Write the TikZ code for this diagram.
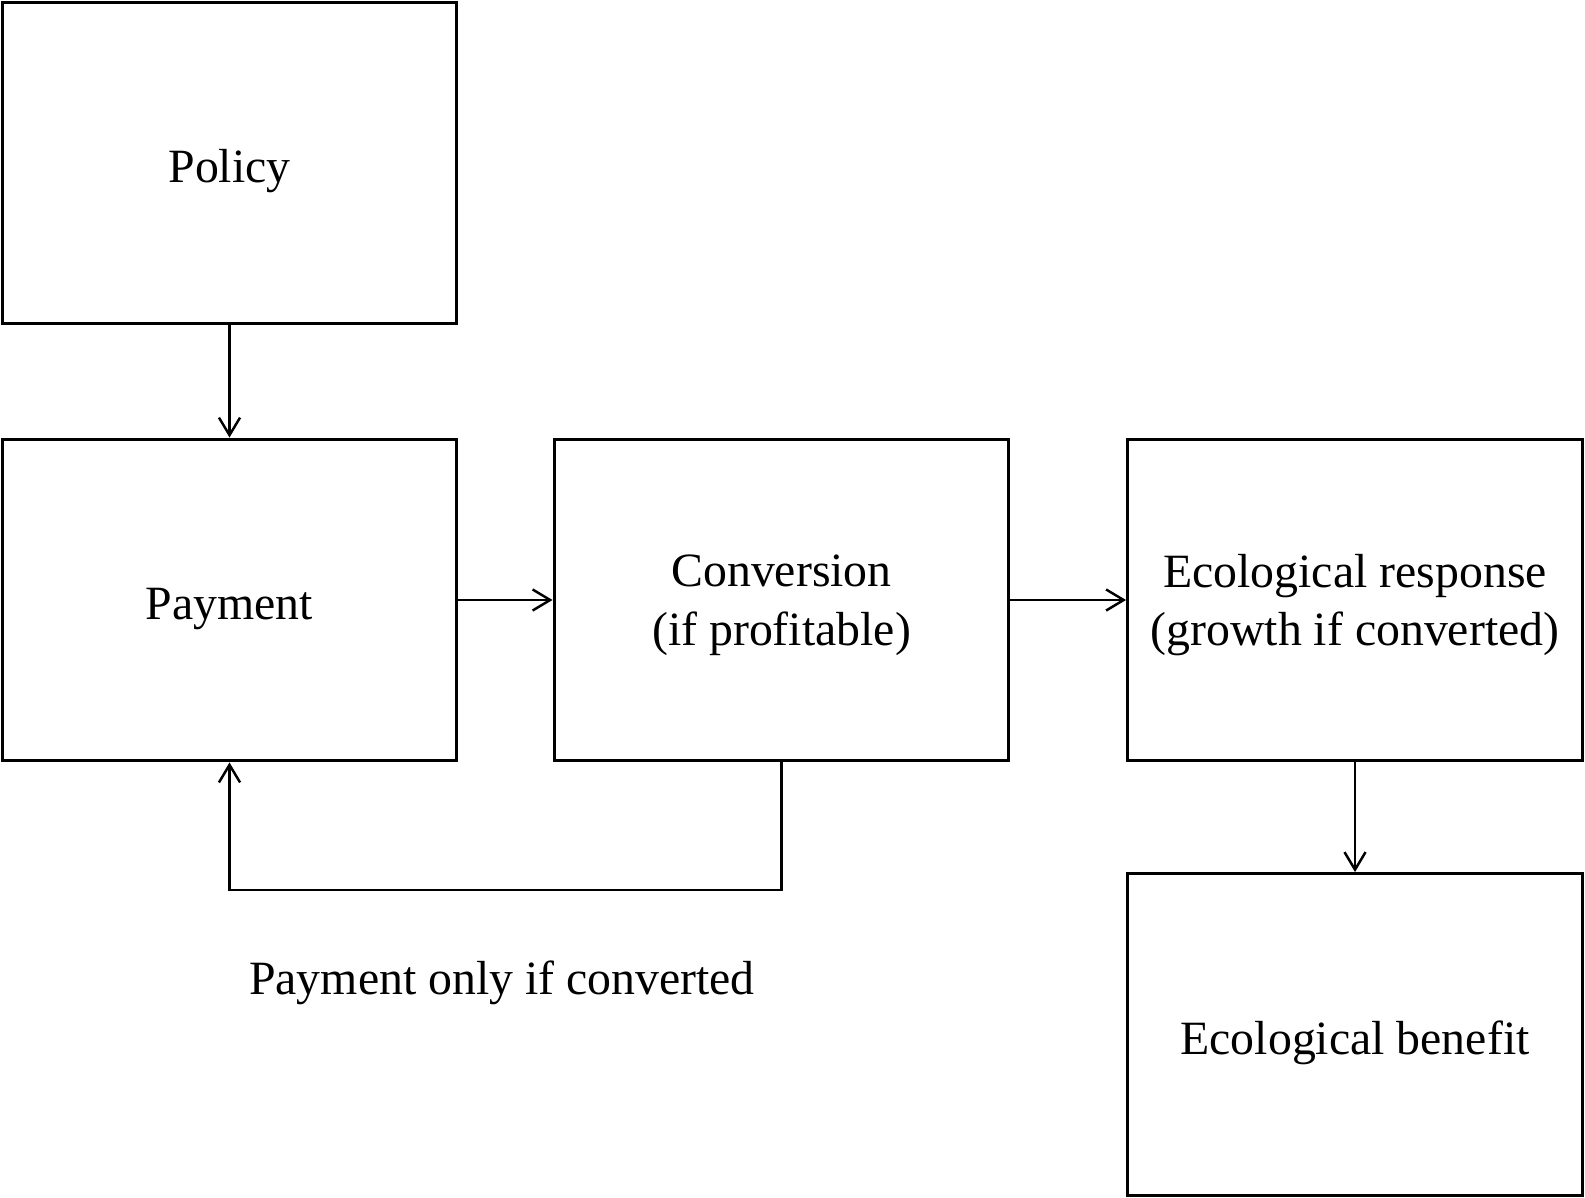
\documentclass[tikz,border=0pt]{standalone}
\usepackage{fontspec}
\setmainfont{Liberation Serif}
\usetikzlibrary{arrows.meta}

\begin{document}
\begin{tikzpicture}[x=0.02cm, y=-0.02cm,
    block/.style={draw, line width=1.7pt, minimum width=9.1cm, minimum height=6.44cm,
                  align=center, inner sep=0pt, text depth=0pt,
                  execute at begin node={\rule{0pt}{22.6pt}},
                  font=\fontsize{27.2}{33.4}\selectfont},
    link/.style={line width=1.3pt, -{Straight Barb[length=10pt, width=12pt, line width=1.4pt]}}]
  \useasboundingbox (0,0) rectangle (1585,1197);

  % Boxes
  \node[block] (policy) at (229.5, 163) {Policy};
  \node[block] (payment) at (229.5, 600) {Payment};
  \node[block] (conversion) at (781.5, 600) {Conversion\\(if profitable)};
  \node[block] (response) at (1355, 600) {Ecological response\\(growth if converted)};
  \node[block] (benefit) at (1355, 1034.5) {Ecological benefit};

  % Arrows
  \draw[link] (policy) -- (payment);
  \draw[link] (payment) -- (conversion);
  \draw[link] (conversion) -- (response);
  \draw[link] (response) -- (benefit);

  % Feedback loop
  \coordinate (loop) at (0, 890);
  \draw[link] (conversion.south) |- (loop -| payment.south) -- (payment.south);
  \node[font=\fontsize{27.2}{33.4}\selectfont] (note) at (502, 983) {Payment only if converted};
\end{tikzpicture}
\end{document}
